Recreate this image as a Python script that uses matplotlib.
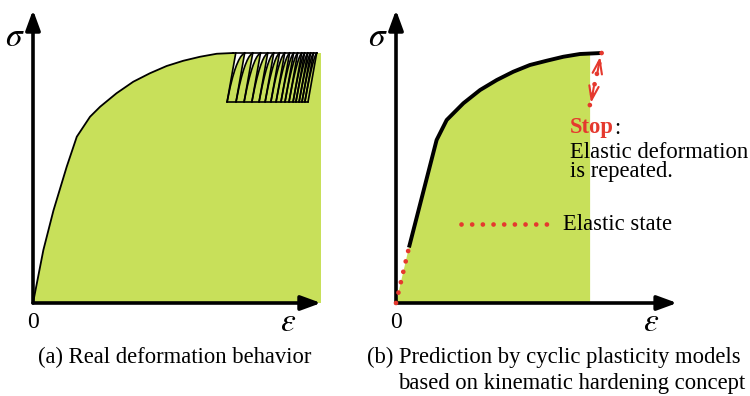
import numpy as np
import matplotlib
matplotlib.use("Agg")
import matplotlib.pyplot as plt
from matplotlib.patches import Polygon

plt.rcParams['font.family'] = ['Liberation Serif', 'DejaVu Serif']
plt.rcParams['mathtext.fontset'] = 'stix'

GREEN = '#c8e05a'
RED = '#e5392e'
FS = 16.3

# ---- (a) real deformation behaviour: monotonic envelope (normalised strain, stress)
real_eps = [0.0, 0.036, 0.071, 0.117, 0.152, 0.198, 0.233, 0.290, 0.348, 0.406,
            0.464, 0.522, 0.580, 0.638, 0.696]
real_sig = [0.0, 0.212, 0.370, 0.545, 0.665, 0.745, 0.785, 0.839, 0.885, 0.919,
            0.948, 0.969, 0.985, 0.997, 1.0]
# ratchetting cycles: strain at the lower turning point of each cycle
cycle_bottom_eps = [0.674, 0.705, 0.733, 0.760, 0.785, 0.806, 0.826, 0.844, 0.861,
                    0.875, 0.889, 0.903, 0.913, 0.924, 0.934, 0.944, 0.955]
cycle_sig_min = 0.805
cycle_sig_max = 1.0
unload_width = 0.03
# shape of a reloading branch: share of the ratchet increment reached vs. height
reload_height = [0.0, 0.30, 0.50, 0.65, 0.75, 0.85, 0.92, 0.97, 1.0]
reload_share = [0.0, 0.05, 0.13, 0.23, 0.33, 0.47, 0.62, 0.80, 1.0]

# ---- (b) prediction by kinematic hardening models
elastic_eps = [0.0, 0.045]
elastic_sig = [0.0, 0.222]
model_eps = [0.045, 0.141, 0.176, 0.234, 0.292, 0.350, 0.407, 0.465, 0.523, 0.581,
             0.639, 0.714]
model_sig = [0.222, 0.652, 0.732, 0.799, 0.852, 0.892, 0.925, 0.952, 0.969, 0.985,
             0.996, 1.0]
fill_end_b = 0.674
stop_eps = [0.714, 0.670]
stop_sig = [1.0, 0.776]
elastic_state_eps = [0.226, 0.559]
elastic_state_sig = 0.316


def make_axes(left_px):
    ax = fig.add_axes([left_px / 750, 68 / 396, 345.6 / 750, 325 / 396])
    ax.set_xlim(-0.1, 1.1)
    ax.set_ylim(-0.1, 1.2)
    ax.axis('off')
    return ax


def draw_axes_arrows(ax, x_tip, y_tip):
    kw = dict(arrowstyle='-|>,head_length=0.6,head_width=0.22', mutation_scale=20,
              lw=2.6, color='black', shrinkA=0, shrinkB=0)
    ax.annotate('', xy=(x_tip, 0), xytext=(0, 0), arrowprops=kw, zorder=6)
    ax.annotate('', xy=(0, y_tip), xytext=(0, 0), arrowprops=kw, zorder=6)


def axis_labels(ax):
    ax.text(-0.062, 1.06, r'$\sigma$', fontsize=24, ha='center', va='center')
    ax.text(0.885, -0.08, r'$\varepsilon$', fontsize=24, ha='center', va='center')
    ax.text(0.0, -0.078, '0', fontsize=17, ha='center', va='center')


fig = plt.figure(figsize=(7.5, 3.96), dpi=100)

# ================= panel (a) =================
ax = make_axes(4.2)
env_x = real_eps + [1.0, 1.0, 0.0]
env_y = real_sig + [1.0, 0.0, 0.0]
ax.add_patch(Polygon(np.column_stack([env_x, env_y]), closed=True, fc=GREEN, ec='none', zorder=1))
ax.plot(real_eps, real_sig, color='black', lw=1.3, zorder=3)

h = cycle_sig_max - cycle_sig_min
rh = np.array(reload_height)
rs = np.array(reload_share)
tops = [b + unload_width for b in cycle_bottom_eps]
ax.plot([real_eps[-1], tops[-1]], [cycle_sig_max, cycle_sig_max], color='black', lw=1.2, zorder=3)
ax.plot([cycle_bottom_eps[0], cycle_bottom_eps[-1]], [cycle_sig_min, cycle_sig_min],
        color='black', lw=1.2, zorder=3)
for i, b in enumerate(cycle_bottom_eps):
    # unloading branch
    ax.plot([tops[i], b], [cycle_sig_max, cycle_sig_min], color='black', lw=1.2, zorder=3)
    if i + 1 < len(cycle_bottom_eps):
        step = cycle_bottom_eps[i + 1] - b
        rx = b + unload_width * rh + rs * step
        ry = cycle_sig_min + h * rh
        ax.fill(np.r_[rx, tops[i]], np.r_[ry, cycle_sig_max], color='white', zorder=2, lw=0)
        ax.plot(rx, ry, color='black', lw=1.2, zorder=3)
draw_axes_arrows(ax, 1.0, 1.172)
axis_labels(ax)

# ================= panel (b) =================
ax = make_axes(367.2)
all_eps = elastic_eps[:-1] + model_eps
all_sig = elastic_sig[:-1] + model_sig
keep = [(e, s) for e, s in zip(all_eps, all_sig) if e < fill_end_b]
fx = [k[0] for k in keep] + [fill_end_b, fill_end_b, 0.0]
top_at_end = np.interp(fill_end_b, all_eps, all_sig)
fy = [k[1] for k in keep] + [top_at_end, 0.0, 0.0]
ax.add_patch(Polygon(np.column_stack([fx, fy]), closed=True, fc=GREEN, ec='none', zorder=1))
ax.plot(model_eps, model_sig, color='black', lw=2.8, solid_capstyle='butt', zorder=3)

dots = dict(color=RED, lw=3.4, ls=(0, (0.01, 2.25)), dash_capstyle='round', zorder=7)
ax.plot(elastic_eps, elastic_sig, **dots)
ax.plot(stop_eps, stop_sig, **dots)
ax.plot(elastic_state_eps, [elastic_state_sig] * 2, **dots)

chev = dict(arrowstyle='->,head_length=0.5,head_width=0.17', mutation_scale=20,
            lw=1.5, color=RED, shrinkA=0, shrinkB=0)
ax.annotate('', xy=(0.709, 0.985), xytext=(0.700, 0.925), arrowprops=chev, zorder=8)
ax.annotate('', xy=(0.677, 0.80), xytext=(0.687, 0.865), arrowprops=chev, zorder=8)

stop = ax.text(0.604, 0.70, 'Stop', color=RED, fontsize=FS, fontweight='bold',
               ha='left', va='center', zorder=9)
ax.annotate(':', xy=(1, 0.5), xycoords=stop, fontsize=FS, ha='left', va='center', zorder=9)
ax.text(0.604, 0.604, 'Elastic deformation', fontsize=FS, ha='left', va='center', zorder=9)
ax.text(0.604, 0.524, 'is repeated.', fontsize=FS, ha='left', va='center', zorder=9)
ax.text(0.580, elastic_state_sig, 'Elastic state', fontsize=FS, ha='left', va='center', zorder=9)

draw_axes_arrows(ax, 0.976, 1.172)
axis_labels(ax)

# ================= captions =================
fig.text(174.5 / 750, 1 - 357 / 396, '(a) Real deformation behavior', fontsize=FS,
         ha='center', va='center')
fig.text(367 / 750, 1 - 357 / 396, '(b) Prediction by cyclic plasticity models',
         fontsize=FS, ha='left', va='center')
fig.text(398 / 750, 1 - 383 / 396, 'based on kinematic hardening concept',
         fontsize=FS, ha='left', va='center')

fig.savefig('out.png', dpi=100)
